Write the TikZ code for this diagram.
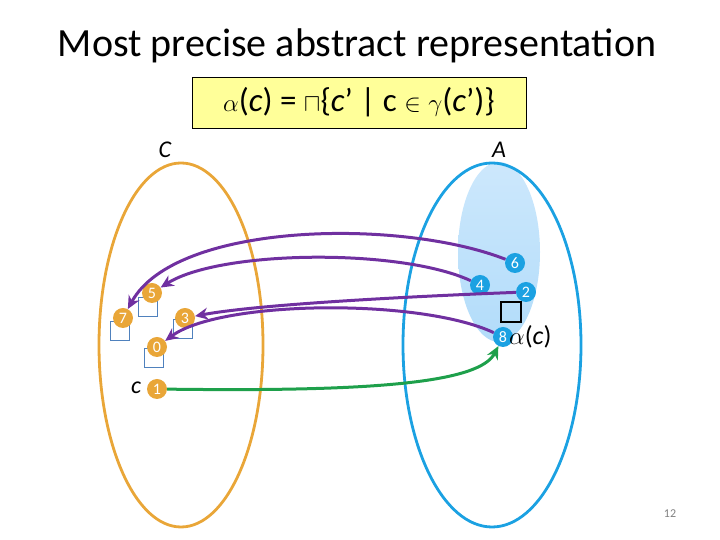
\documentclass[tikz,border=0pt]{standalone}
\usepackage{fontspec}
\setmainfont{Carlito}
\usetikzlibrary{arrows.meta}
\definecolor{corange}{RGB}{233,166,56}
\definecolor{cblue}{RGB}{27,161,226}
\definecolor{cpurple}{RGB}{112,48,160}
\definecolor{cgreen}{RGB}{30,160,75}
\definecolor{csq}{RGB}{79,129,189}
\definecolor{cyellow}{RGB}{255,255,153}
\definecolor{clight}{RGB}{178,220,250}
\definecolor{clighttop}{RGB}{205,232,252}
\begin{document}
\begin{tikzpicture}[x=1pt,y=1pt,
  onum/.style={circle,fill=corange,text=white,minimum size=20pt,inner sep=0pt,font=\fontsize{16}{16}\selectfont},
  bnum/.style={circle,fill=cblue,text=white,minimum size=20pt,inner sep=0pt,font=\fontsize{16}{16}\selectfont},
  sqbox/.style={draw=csq,line width=1.4pt,minimum size=19pt,inner sep=0pt},
  parrow/.style={draw=cpurple,line width=3pt,-{Stealth[length=13pt,width=12pt]}},
  garrow/.style={draw=cgreen,line width=3pt,-{Stealth[length=13pt,width=12pt]}},
  lbl/.style={font=\fontsize{24}{24}\selectfont\itshape}]
\useasboundingbox (0,0) rectangle (720,540);
% title
\node[font=\fontsize{40}{46}\selectfont] (title) at (357,494) {Most precise abstract representation};
% formula box
\node[draw=black,line width=0.6pt,fill=cyellow,minimum width=334pt,minimum height=51pt,font=\fontsize{33}{34}\selectfont] (formula) at (359,437.5)
  {$\alpha$(\textit{c}) = $\sqcap$\{\textit{c}’ | c $\in$ $\gamma$(\textit{c}’)\}};
% sets
\node[lbl] (lC) at (165,390) {C};
\node[lbl] (lA) at (499,390) {A};
\draw[corange,line width=2.8pt] (181,195) ellipse [x radius=82pt, y radius=182pt];
\shade[top color=clighttop,bottom color=clight] (499,288) ellipse [x radius=41pt, y radius=90pt];
\draw[cblue,line width=2.8pt] (492,195) ellipse [x radius=89pt, y radius=182pt];
% concrete squares
\node[sqbox] (s5) at (148,233) {};
\node[sqbox] (s7) at (120,209) {};
\node[sqbox] (s3) at (183,211) {};
\node[sqbox] (s0) at (154,182) {};
% concrete points
\node[onum] (n5) at (152,247) {5};
\node[onum] (n7) at (123,222) {7};
\node[onum] (n3) at (185,222) {3};
\node[onum] (n0) at (157,193) {0};
\node[onum] (n1) at (157,151) {1};
\node[lbl] (lc) at (136,152) {c};
% abstract points
\node[bnum] (n6) at (515,277) {6};
\node[bnum] (n4) at (480,255) {4};
\node[bnum] (n2) at (526,248) {2};
\node[bnum] (n8) at (503,203) {8};
\node[draw=black,line width=2.2pt,minimum size=20pt,inner sep=0pt] (sq) at (511,228) {};
\node[anchor=west,inner sep=0pt,font=\fontsize{26}{26}\selectfont] (lalpha) at (509,203) {$\alpha$(\textit{c})};
% arrows
\draw[parrow] (n6) .. controls (400,322) and (175,318) .. (n7);
\draw[parrow] (n4) .. controls (400,292) and (220,290) .. (n5);
\draw[parrow] (n2) .. controls (420,244) and (260,236) .. (n3);
\draw[parrow] (n8) .. controls (420,242) and (220,240) .. (n0);
\draw[garrow] (n1) .. controls (380,148) and (480,158) .. (n8);
% page number
\node[font=\fontsize{12}{12}\selectfont,text=gray] (pg) at (670,26) {12};
\end{tikzpicture}
\end{document}
